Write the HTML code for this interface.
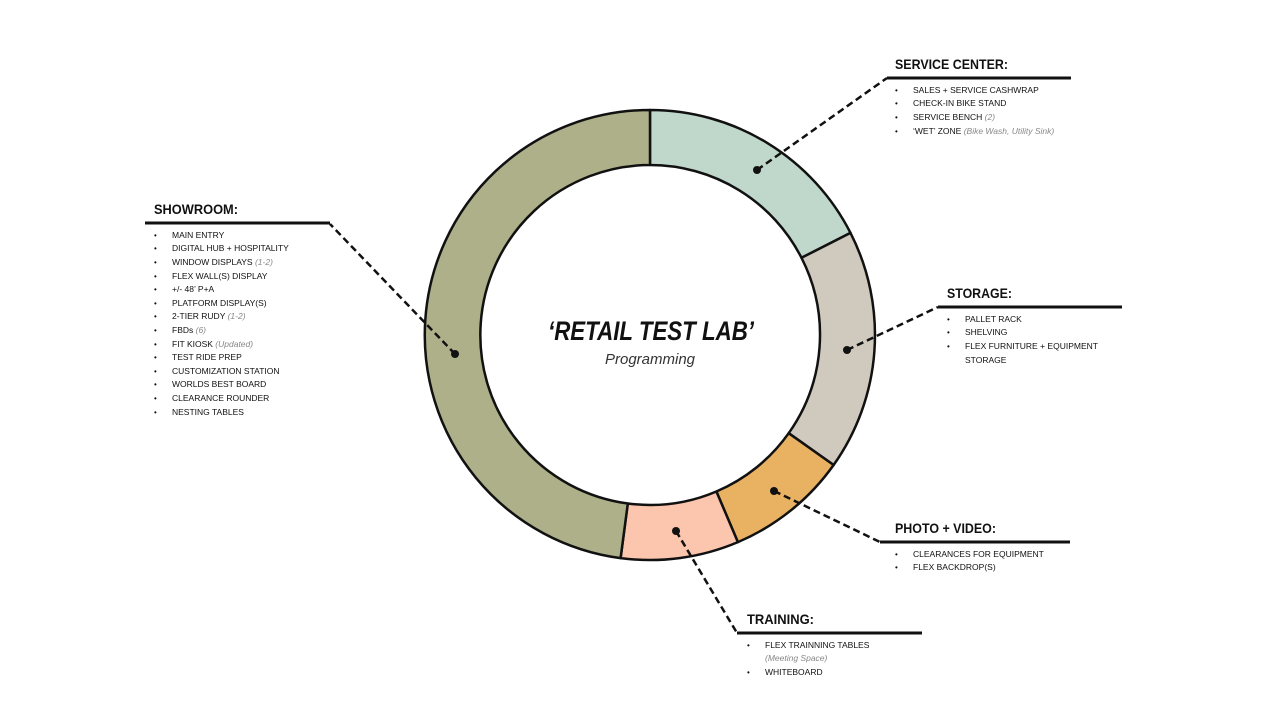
<!DOCTYPE html>
<html><head><meta charset="utf-8"><style>
html,body{margin:0;padding:0;background:#fff;}
svg{display:block;}
.h{font-family:"Liberation Sans Narrow","Liberation Sans",sans-serif;font-weight:bold;font-size:14px;fill:#111;}
.i{font-family:"Liberation Sans",sans-serif;font-size:8.5px;fill:#111;}
.it{font-style:italic;fill:#888;}
.b{font-family:"Liberation Sans",sans-serif;font-size:8px;fill:#111;}
</style></head><body>
<svg width="1280" height="720" viewBox="0 0 1280 720" xmlns="http://www.w3.org/2000/svg">
<g stroke="#111" stroke-width="2.5" stroke-linejoin="round">
<path d="M650,110 A225,225 0 0 1 850.5,232.9 L801.5,257.8 A170,170 0 0 0 650,165 Z" fill="#c0d8cc"/>
<path d="M850.5,232.9 A225,225 0 0 1 833.6,465 L788.7,433.2 A170,170 0 0 0 801.5,257.8 Z" fill="#d0c9bd"/>
<path d="M833.6,465 A225,225 0 0 1 737.9,542.1 L716.4,491.5 A170,170 0 0 0 788.7,433.2 Z" fill="#e9b263"/>
<path d="M737.9,542.1 A225,225 0 0 1 620.6,558.1 L627.8,503.5 A170,170 0 0 0 716.4,491.5 Z" fill="#fbc5ae"/>
<path d="M620.6,558.1 A225,225 0 0 1 650,110 L650,165 A170,170 0 0 0 627.8,503.5 Z" fill="#adb089"/>
</g>
<g stroke="#111" stroke-width="2.5" fill="none" stroke-dasharray="7,4">
<path d="M757,170 L887,78"/>
<path d="M455,354 L330,224"/>
<path d="M847,350 L938,307"/>
<path d="M774,491 L880,542"/>
<path d="M676,531 L737,633"/>
</g>
<g stroke="#111" stroke-width="3">
<line x1="887" y1="78" x2="1071" y2="78"/>
<line x1="145" y1="223" x2="330" y2="223"/>
<line x1="938" y1="307" x2="1122" y2="307"/>
<line x1="880" y1="542" x2="1070" y2="542"/>
<line x1="737" y1="633" x2="922" y2="633"/>
</g>
<g fill="#111">
<circle cx="757" cy="170" r="4"/><circle cx="455" cy="354" r="4"/><circle cx="847" cy="350" r="4"/><circle cx="774" cy="491" r="4"/><circle cx="676" cy="531" r="4"/>
</g>
<text x="651" y="340" text-anchor="middle" font-family="Liberation Sans,sans-serif" font-weight="bold" font-style="italic" font-size="27" textLength="206" lengthAdjust="spacingAndGlyphs" fill="#111">‘RETAIL TEST LAB’</text>
<text x="650" y="364" text-anchor="middle" font-family="Liberation Sans,sans-serif" font-style="italic" font-size="15" textLength="90" lengthAdjust="spacingAndGlyphs" fill="#333">Programming</text>

<text class="h" x="895" y="69" textLength="113" lengthAdjust="spacingAndGlyphs">SERVICE CENTER:</text>
<g class="i">
<text x="913" y="93">SALES + SERVICE CASHWRAP</text>
<text x="913" y="106">CHECK-IN BIKE STAND</text>
<text x="913" y="120">SERVICE BENCH <tspan class="it">(2)</tspan></text>
<text x="913" y="134">‘WET’ ZONE <tspan class="it">(Bike Wash, Utility Sink)</tspan></text>
</g>
<g class="b"><text x="895" y="93">•</text><text x="895" y="106">•</text><text x="895" y="120">•</text><text x="895" y="134">•</text></g>

<text class="h" x="154" y="214" textLength="84" lengthAdjust="spacingAndGlyphs">SHOWROOM:</text>
<g class="i">
<text x="172" y="238">MAIN ENTRY</text>
<text x="172" y="251">DIGITAL HUB + HOSPITALITY</text>
<text x="172" y="265">WINDOW DISPLAYS <tspan class="it">(1-2)</tspan></text>
<text x="172" y="279">FLEX WALL(S) DISPLAY</text>
<text x="172" y="292">+/- 48’ P+A</text>
<text x="172" y="306">PLATFORM DISPLAY(S)</text>
<text x="172" y="319">2-TIER RUDY <tspan class="it">(1-2)</tspan></text>
<text x="172" y="333">FBDs <tspan class="it">(6)</tspan></text>
<text x="172" y="347">FIT KIOSK <tspan class="it">(Updated)</tspan></text>
<text x="172" y="360">TEST RIDE PREP</text>
<text x="172" y="374">CUSTOMIZATION STATION</text>
<text x="172" y="387">WORLDS BEST BOARD</text>
<text x="172" y="401">CLEARANCE ROUNDER</text>
<text x="172" y="415">NESTING TABLES</text>
</g>
<g class="b"><text x="154" y="238">•</text><text x="154" y="251">•</text><text x="154" y="265">•</text><text x="154" y="279">•</text><text x="154" y="292">•</text><text x="154" y="306">•</text><text x="154" y="319">•</text><text x="154" y="333">•</text><text x="154" y="347">•</text><text x="154" y="360">•</text><text x="154" y="374">•</text><text x="154" y="387">•</text><text x="154" y="401">•</text><text x="154" y="415">•</text></g>

<text class="h" x="947" y="298" textLength="65" lengthAdjust="spacingAndGlyphs">STORAGE:</text>
<g class="i">
<text x="965" y="322">PALLET RACK</text>
<text x="965" y="335">SHELVING</text>
<text x="965" y="349">FLEX FURNITURE + EQUIPMENT</text>
<text x="965" y="363">STORAGE</text>
</g>
<g class="b"><text x="947" y="322">•</text><text x="947" y="335">•</text><text x="947" y="349">•</text></g>

<text class="h" x="895" y="533" textLength="101" lengthAdjust="spacingAndGlyphs">PHOTO + VIDEO:</text>
<g class="i">
<text x="913" y="557">CLEARANCES FOR EQUIPMENT</text>
<text x="913" y="570">FLEX BACKDROP(S)</text>
</g>
<g class="b"><text x="895" y="557">•</text><text x="895" y="570">•</text></g>

<text class="h" x="747" y="624" textLength="67" lengthAdjust="spacingAndGlyphs">TRAINING:</text>
<g class="i">
<text x="765" y="648">FLEX TRAINNING TABLES</text>
<text x="765" y="661" class="i it">(Meeting Space)</text>
<text x="765" y="675">WHITEBOARD</text>
</g>
<g class="b"><text x="747" y="648">•</text><text x="747" y="675">•</text></g>
</svg>
</body></html>
